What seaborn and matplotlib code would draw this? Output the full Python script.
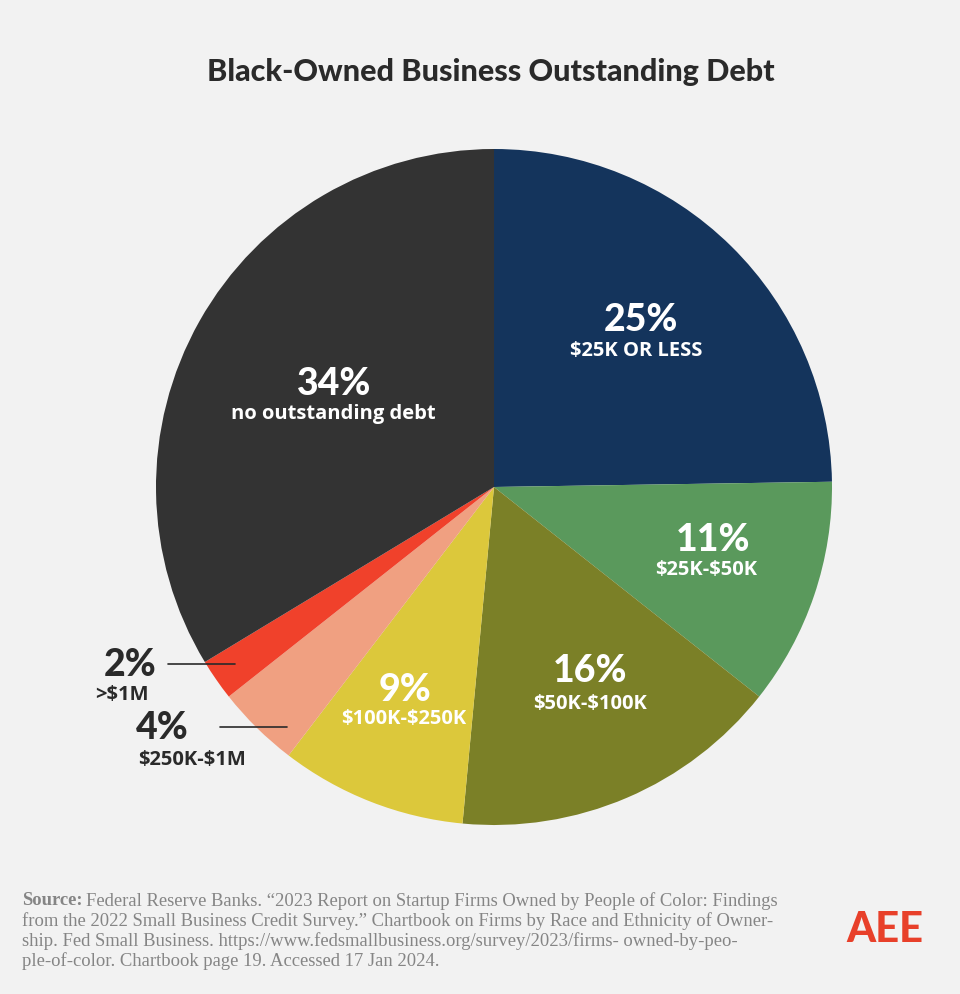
import numpy as np
import matplotlib
matplotlib.use("Agg")
import matplotlib.pyplot as plt
import seaborn as sns

# Chart data
categories = ["$25K OR LESS", "$25K-$50K", "$50K-$100K", "$100K-$250K",
              "$250K-$1M", ">$1M", "no outstanding debt"]
shares = [25, 11, 16, 9, 4, 2, 34]
slice_colors = ["#14345c", "#5a995c", "#7b8027", "#dcc83b", "#f0a081", "#f0412b", "#333333"]

title = "Black-Owned Business Outstanding Debt"
source_lines = [
    "Federal Reserve Banks. \u201c2023 Report on Startup Firms Owned by People of Color: Findings",
    "from the 2022 Small Business Credit Survey.\u201d Chartbook on Firms by Race and Ethnicity of Owner-",
    "ship. Fed Small Business. https://www.fedsmallbusiness.org/survey/2023/firms- owned-by-peo-",
    "ple-of-color. Chartbook page 19. Accessed 17 Jan 2024.",
]

bg = "#f2f2f2"
sns.set_theme(style="white", rc={"figure.facecolor": bg, "axes.facecolor": bg})
plt.rcParams["font.family"] = ["Lato", "DejaVu Sans"]

W, H = 960, 995
fig = plt.figure(figsize=(W / 100, H / 100), dpi=100)


def fx(px):
    return px / W


def fy(py):
    return 1 - py / H


# Pie: centre (494, 488) px, radius 338 px
cx, cy, r = 494, 488, 338
ax = fig.add_axes([fx(cx - r), fy(cy + r), 2 * r / W, 2 * r / H])
ax.pie(shares, colors=sns.color_palette(slice_colors), startangle=90,
       counterclock=False, radius=1, wedgeprops=dict(linewidth=0))
ax.set_xlim(-1, 1)
ax.set_ylim(-1, 1)
ax.set_aspect("auto")
ax.axis("off")

# Title
fig.text(fx(491), fy(72), title, ha="center", va="center",
         fontsize=22, fontweight="black", color="#2a2a2a")

# Slice labels: percent centre then category centre, in pixels
pct_labels = [f"{v}%" for v in shares]
label_pos = [(641, 320, 636, 351), (713, 540, 706, 570), (590, 671, 590, 704),
             (405, 690, 404, 719), (162, 728, 192, 760), (130, 665, 122, 695),
             (334, 384, 333, 414)]
for i, (pct, cat) in enumerate(zip(pct_labels, categories)):
    x1, y1, x2, y2 = label_pos[i]
    outside = i in (4, 5)
    col = "#2a2a2a" if outside else "white"
    fig.text(fx(x1), fy(y1), pct, ha="center", va="center",
             fontsize=27, fontweight="black", color=col, parse_math=False)
    fig.text(fx(x2), fy(y2), cat, ha="center", va="center",
             fontsize=14.5, fontweight="bold", color=col, parse_math=False,
             family=["Open Sans", "DejaVu Sans"])

# Leader lines for the small slices
fig.add_artist(plt.Line2D([fx(168), fx(235)], [fy(665), fy(665)], color="#2a2a2a", lw=1.2))
fig.add_artist(plt.Line2D([fx(220), fx(287)], [fy(728), fy(728)], color="#2a2a2a", lw=1.2))

# Source note
src_kw = dict(fontsize=13.4, color="#858585", family=["Liberation Serif", "DejaVu Serif"],
              va="center", ha="left", parse_math=False)
head = fig.text(fx(22), fy(901), "Source:", fontweight="bold", **src_kw)
fig.canvas.draw()
bb = head.get_window_extent()
fig.text((bb.x1 + 4) / W, fy(901), source_lines[0], **src_kw)
for k, line in enumerate(source_lines[1:]):
    fig.text(fx(22), fy(921 + 20 * k), line, **src_kw)

# Logo
fig.text(fx(885), fy(930), "AEE", ha="center", va="center", fontsize=30,
         fontweight="black", color="#e8402a")

fig.savefig("out.png", dpi=100, facecolor=bg)
